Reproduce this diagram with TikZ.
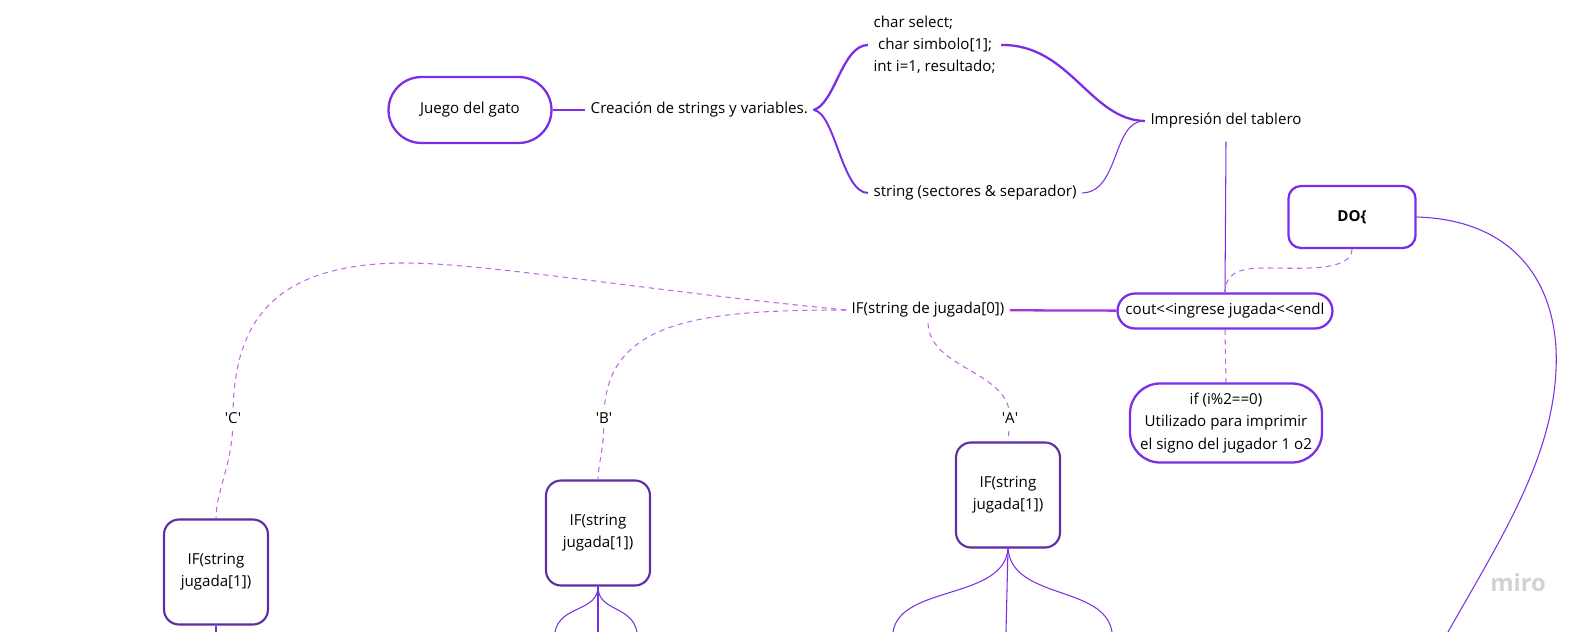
\documentclass[tikz,border=0pt]{standalone}
\usepackage{fontspec}
\setmainfont{Open Sans}
\usepackage{tikz}
\usetikzlibrary{positioning}
\definecolor{miropurple}{HTML}{7A2EE6}
\definecolor{darkpurple}{HTML}{5E2CA5}
\definecolor{dashpurple}{HTML}{C066E6}
\definecolor{linkpurple}{HTML}{A833D8}

\begin{document}
\begin{tikzpicture} [
        x = 0.02cm, y = -0.02cm,
        font = \fontsize{8.6}{12.6}\selectfont,
        pill/.style = {draw=miropurple, line width=1.3pt, rounded corners=#1, align=center},
        ifbox/.style = {draw=darkpurple, line width=1.2pt, rounded corners=0.3cm, align=center,
                        minimum width=2.08cm, minimum height=2.1cm},
        txt/.style = {inner sep=3pt},
        strong/.style = {draw=miropurple, line width=1.3pt},
        fine/.style = {draw=miropurple, line width=0.6pt},
        dashline/.style = {draw=dashpurple, line width=0.6pt, dash pattern=on 3pt off 2.5pt},
        tag/.style = {fill=white, inner sep=2pt}
    ]

    \useasboundingbox (0,0) rectangle (1580,632);

    \node[pill=0.66cm, minimum width=3.26cm, minimum height=1.32cm] (juego) at (470,110) {Juego del gato};
    \node[txt, right = 0.65cm of juego] (crea) {Creación de strings y variables.};
    \node[txt, anchor=west, align=left] (vars) at (868,45) {char select;\\\hspace{0.3em}char simbolo[1];\\int i=1, resultado;};
    \node[txt, anchor=west] (sect) at (868,193) {string (sectores \& separador)};
    \node[txt] (imp) at (1226,121) {Impresión del tablero};
    \node[draw=miropurple, line width=1.3pt, rounded corners=0.25cm, minimum width=2.54cm, minimum height=1.24cm,
          font=\fontsize{8.6}{10}\selectfont\bfseries] (do) at (1352,217) {DO\{};
    \node[pill=0.35cm, minimum width=4.3cm, minimum height=0.7cm, inner sep=1pt] (cout) at (1225,311) {cout<{}<ingrese jugada<{}<endl};
    \node[pill=0.6cm, minimum width=3.84cm, minimum height=1.58cm] (par) at (1226,423) {if (i\%2==0)\\Utilizado para imprimir\\el signo del jugador 1 o2};
    \node[txt] (if0) at (928,310) {IF(string de jugada[0])};
    \node[ifbox] (ifc) at (216,572) {IF(string\\jugada[1])};
    \node[ifbox] (ifb) at (598,533) {IF(string\\jugada[1])};
    \node[ifbox] (ifa) at (1008,495) {IF(string\\jugada[1])};
    \node[text=gray!35, font=\fontsize{13.5}{13.5}\selectfont\bfseries] (miro) at (1518,583) {miro};

    \coordinate (c0) at (216,632);
    \coordinate (b1) at (555,632);
    \coordinate (b2) at (598,632);
    \coordinate (b3) at (637,632);
    \coordinate (a1) at (893,632);
    \coordinate (a2) at (1006,632);
    \coordinate (a3) at (1112,632);
    \coordinate (d0) at (1448,632);

    \path[strong] (juego) -- (crea);
    \path[strong] (crea.east) .. controls (835,104) and (842,45) .. (vars.west);
    \path[strong, line width=1.1pt] (crea.east) .. controls (835,112) and (842,193) .. (sect.west);
    \path[strong] (vars.east) .. controls (1070,44) and (1090,120) .. (imp.west);
    \path[fine] (sect.east) .. controls (1120,192) and (1112,120) .. (imp.west);
    \path[fine] ([yshift=-1.5mm]imp.south) -- (cout.north);
    \path[draw=linkpurple, line width=1.3pt] (if0) -- (cout);
    \path[dashline] (do.south) .. controls (1352,272) and (1300,268) .. (1265,268) .. controls (1235,268) and (1226,275) .. (cout.north);
    \path[dashline] (cout.south) -- (par.north);
    \path[fine] (do.east) .. controls (1520,220) and (1560,290) .. (1556,370) .. controls (1552,460) and (1500,540) .. (d0);

    \path[dashline] (if0.west) .. controls (640,290) and (480,262) .. (400,263) .. controls (265,265) and (233,330) .. (233,418)
        node[tag] {\textquotesingle C\textquotesingle} .. controls (233,465) and (216,490) .. (ifc.north);
    \path[dashline] (if0.west) .. controls (700,310) and (604,320) .. (604,418)
        node[tag] {\textquotesingle B\textquotesingle} .. controls (604,450) and (598,465) .. (ifb.north);
    \path[dashline] (if0.south) .. controls (930,370) and (1010,370) .. (1010,418)
        node[tag] {\textquotesingle A\textquotesingle} -- (ifa.north);

    \path[fine] (ifc.south) -- (c0);
    \path[fine] (ifb.south) .. controls (598,612) and (560,605) .. (b1);
    \path[fine] (ifb.south) -- (b2);
    \path[fine] (ifb.south) .. controls (598,612) and (632,605) .. (b3);
    \path[fine] (ifa.south) .. controls (1004,600) and (900,585) .. (a1);
    \path[fine] (ifa.south) -- (a2);
    \path[fine] (ifa.south) .. controls (1012,600) and (1105,585) .. (a3);

\end{tikzpicture}
\end{document}
